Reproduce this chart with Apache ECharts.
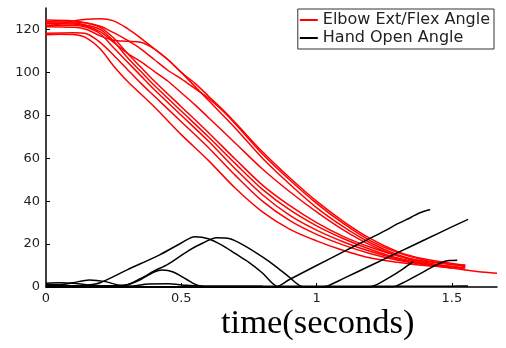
<!DOCTYPE html>
<html>
<head>
<meta charset="utf-8">
<script src="https://cdn.jsdelivr.net/npm/echarts@6.0.0/dist/echarts.min.js"></script>
<style>html,body{margin:0;padding:0;background:#fff;}#c{width:506px;height:348px;}</style>
</head>
<body>
<div id="c"></div>
<script>
// ---- data ----
const xTicks = [0, 0.5, 1, 1.5];
const yTicks = [0, 20, 40, 60, 80, 100, 120];
const xLabelText = 'time(seconds)';
const elbowName = 'Elbow Ext/Flex Angle';
const handName = 'Hand Open Angle';

// Elbow extension/flexion angle trials (time, angle)
const elbow1 = [[0,117.5],[0.05,117.8],[0.1,117.6],[0.15,116],[0.2,111],[0.25,103],[0.3,96],[0.4,84],[0.5,71],[0.6,59],[0.7,46],[0.8,35],[0.9,27],[1.0,21.5],[1.1,17],[1.2,13.5],[1.3,11.5],[1.4,10],[1.5,9.2]];
const elbow2 = [[0,118.2],[0.1,118.5],[0.15,118],[0.2,114],[0.25,108],[0.3,101.5],[0.35,95],[0.4,89],[0.5,77],[0.6,65],[0.7,52],[0.8,40],[0.9,31],[1.0,24.5],[1.1,19.5],[1.2,15.5],[1.3,12.5],[1.4,10.5],[1.5,9.2]];
const elbow3 = [[0,122],[0.1,122],[0.15,121],[0.2,118],[0.25,111.5],[0.3,105],[0.35,98.5],[0.4,92],[0.5,80],[0.6,68],[0.7,55],[0.8,43],[0.9,33.5],[1.0,26.5],[1.1,21],[1.2,16.5],[1.3,13],[1.4,10.5],[1.5,8.8]];
const elbow4 = [[0,123],[0.1,123],[0.15,122],[0.2,120],[0.25,114.5],[0.3,107],[0.35,100.5],[0.4,94],[0.5,82],[0.6,70],[0.7,57.5],[0.8,45.5],[0.9,36],[1.0,28.5],[1.1,22.5],[1.2,17.5],[1.3,13.5],[1.4,11],[1.5,9.5],[1.55,9]];
const elbow5 = [[0,124.4],[0.1,124],[0.15,123],[0.2,121],[0.25,116],[0.3,109],[0.35,102.5],[0.4,96],[0.5,84],[0.6,72],[0.7,59.5],[0.8,47.5],[0.9,38],[1.0,30],[1.1,23.5],[1.2,18.5],[1.3,14.5],[1.4,12],[1.5,10.5],[1.55,10]];
const elbow6 = [[0,121.5],[0.05,122.5],[0.1,124],[0.15,124.8],[0.2,125],[0.25,124],[0.3,120.5],[0.35,116],[0.4,111],[0.45,106],[0.5,100],[0.55,95],[0.6,89],[0.65,83],[0.7,76.5],[0.8,63],[0.9,51],[1.0,40],[1.1,30.5],[1.2,22.5],[1.3,16.5],[1.4,13],[1.5,11],[1.55,10.2]];
const elbow7 = [[0,123.6],[0.1,123.5],[0.15,123],[0.2,121.5],[0.25,118.5],[0.3,115],[0.35,111],[0.4,106],[0.45,101],[0.5,97],[0.55,92.5],[0.6,88],[0.65,82.5],[0.7,76],[0.8,62],[0.9,50],[1.0,39],[1.1,29.5],[1.2,21.5],[1.3,16],[1.4,12.5],[1.5,10.5],[1.55,9.6]];
const elbow8 = [[0,121.3],[0.1,121],[0.15,120],[0.2,117],[0.25,115],[0.3,114.5],[0.35,114],[0.4,111],[0.45,106],[0.5,100],[0.6,87],[0.7,74],[0.8,60],[0.9,48],[1.0,37],[1.1,28],[1.2,20.5],[1.3,15],[1.4,11.5],[1.5,9.5],[1.55,8.2]];
const elbow9 = [[0,122.8],[0.1,122.5],[0.15,121.5],[0.2,119],[0.25,114],[0.3,109],[0.35,105],[0.4,100.5],[0.45,96],[0.5,90.5],[0.55,85],[0.6,79],[0.7,67],[0.8,55],[0.9,44.5],[1.0,35],[1.1,26.5],[1.2,19.5],[1.3,14.5],[1.4,11],[1.5,8.8],[1.6,7.1],[1.667,6.4]];

// Hand open angle trials (time, angle)
const hand1 = [[0,0.3],[0.1,0.3],[0.15,0.8],[0.2,2],[0.3,8],[0.42,15],[0.5,20.5],[0.55,23.4],[0.6,22.5],[0.65,19.5],[0.7,15.5],[0.75,11.5],[0.8,6.5],[0.85,0.5],[0.88,0],[1.0,0]];
const hand2 = [[0,0.5],[0.2,0.5],[0.29,0.8],[0.35,4],[0.4,7.5],[0.45,10.5],[0.53,17.2],[0.58,20.5],[0.63,23],[0.68,22.5],[0.73,19.5],[0.8,14],[0.85,9.5],[0.9,4.5],[0.94,0.5],[0.97,0],[1.05,0]];
const hand3 = [[0,0.5],[0.25,0.5],[0.3,1],[0.35,3.5],[0.4,7],[0.43,7.9],[0.47,7],[0.52,3.5],[0.56,0.8],[0.6,0.3],[0.8,0.3]];
const hand4 = [[0,1],[0.05,1],[0.1,2],[0.16,3.3],[0.22,2.5],[0.27,0.8],[0.3,0.3],[0.5,0]];
const hand5 = [[0,1.8],[0.05,2],[0.1,1.8],[0.15,1],[0.2,0.5],[0.3,0.3]];
const hand6 = [[0,0.2],[0.3,0.3],[0.38,1.4],[0.45,1.5],[0.52,0.8],[0.6,0.3],[1.0,0.3],[1.5,0.4],[1.56,0.5]];
const hand7 = [[0,0],[0.846,0],[0.9,3.5],[1.0,10],[1.1,16.5],[1.16,20.3],[1.25,26],[1.3,29.5],[1.35,32.5],[1.38,34.5],[1.41,35.8],[1.42,36]];
const hand8 = [[0,0],[1.0,0],[1.04,0.5],[1.1,4],[1.2,10],[1.3,16],[1.4,22],[1.5,28],[1.56,31.5]];
const hand9 = [[0,0],[1.19,0],[1.22,1],[1.27,4.5],[1.32,8.5],[1.357,11.8]];
const hand10 = [[0,0],[1.28,0],[1.32,2],[1.38,6],[1.43,9.5],[1.46,11.3],[1.49,12.3],[1.52,12.5]];

const elbowTrials = [elbow1, elbow2, elbow3, elbow4, elbow5, elbow6, elbow7, elbow8, elbow9];
const handTrials = [hand1, hand2, hand3, hand4, hand5, hand6, hand7, hand8, hand9, hand10];

// ---- chart ----
const RED = '#ff0000', BLACK = '#000000';
function mk(name, data, color) {
  return {
    type: 'line', name: name, data: data, showSymbol: false, symbol: 'none',
    smooth: 0.3,
    lineStyle: { color: color, width: 1.5 }, itemStyle: { color: color },
    emphasis: { disabled: true }, silent: true
  };
}
const series = [];
elbowTrials.forEach(d => series.push(mk(elbowName, d, RED)));
handTrials.forEach(d => series.push(mk(handName, d, BLACK)));

const chart = echarts.init(document.getElementById('c'), null, { renderer: 'canvas' });
chart.setOption({
  animation: false,
  backgroundColor: '#fff',
  grid: { left: 46, right: 9, top: 8, bottom: 61, containLabel: false },
  title: {
    text: xLabelText, left: 221, top: 306, padding: 0,
    textStyle: { fontFamily: 'Liberation Serif', fontSize: 34.5, fontWeight: 'normal', color: '#000' }
  },
  legend: {
    orient: 'vertical', right: 12, top: 9, padding: [3, 4, 3, 2],
    itemWidth: 18, itemHeight: 2, itemGap: 2, selectedMode: false,
    borderColor: '#333', borderWidth: 1, backgroundColor: '#fff',
    textStyle: { fontFamily: 'DejaVu Sans', fontSize: 16, color: '#222', lineHeight: 16 },
    data: [{ name: elbowName, icon: 'rect' }, { name: handName, icon: 'rect' }]
  },
  xAxis: {
    type: 'value', min: 0, max: 1.667,
    splitLine: { show: false },
    axisLine: { show: true, onZero: false, lineStyle: { color: '#000', width: 1.5 } },
    axisTick: { show: true, inside: true, length: 4, customValues: xTicks, lineStyle: { color: '#000' } },
    axisLabel: { customValues: xTicks, margin: 5, fontFamily: 'DejaVu Sans', fontSize: 13, color: '#222' }
  },
  yAxis: {
    type: 'value', min: 0, max: 130,
    splitLine: { show: false },
    axisLine: { show: true, lineStyle: { color: '#000', width: 1.5 } },
    axisTick: { show: true, inside: true, length: 4, customValues: yTicks, lineStyle: { color: '#000' } },
    axisLabel: { customValues: yTicks, margin: 6, fontFamily: 'DejaVu Sans', fontSize: 13, color: '#222' }
  },
  series: series
});
</script>
</body>
</html>
